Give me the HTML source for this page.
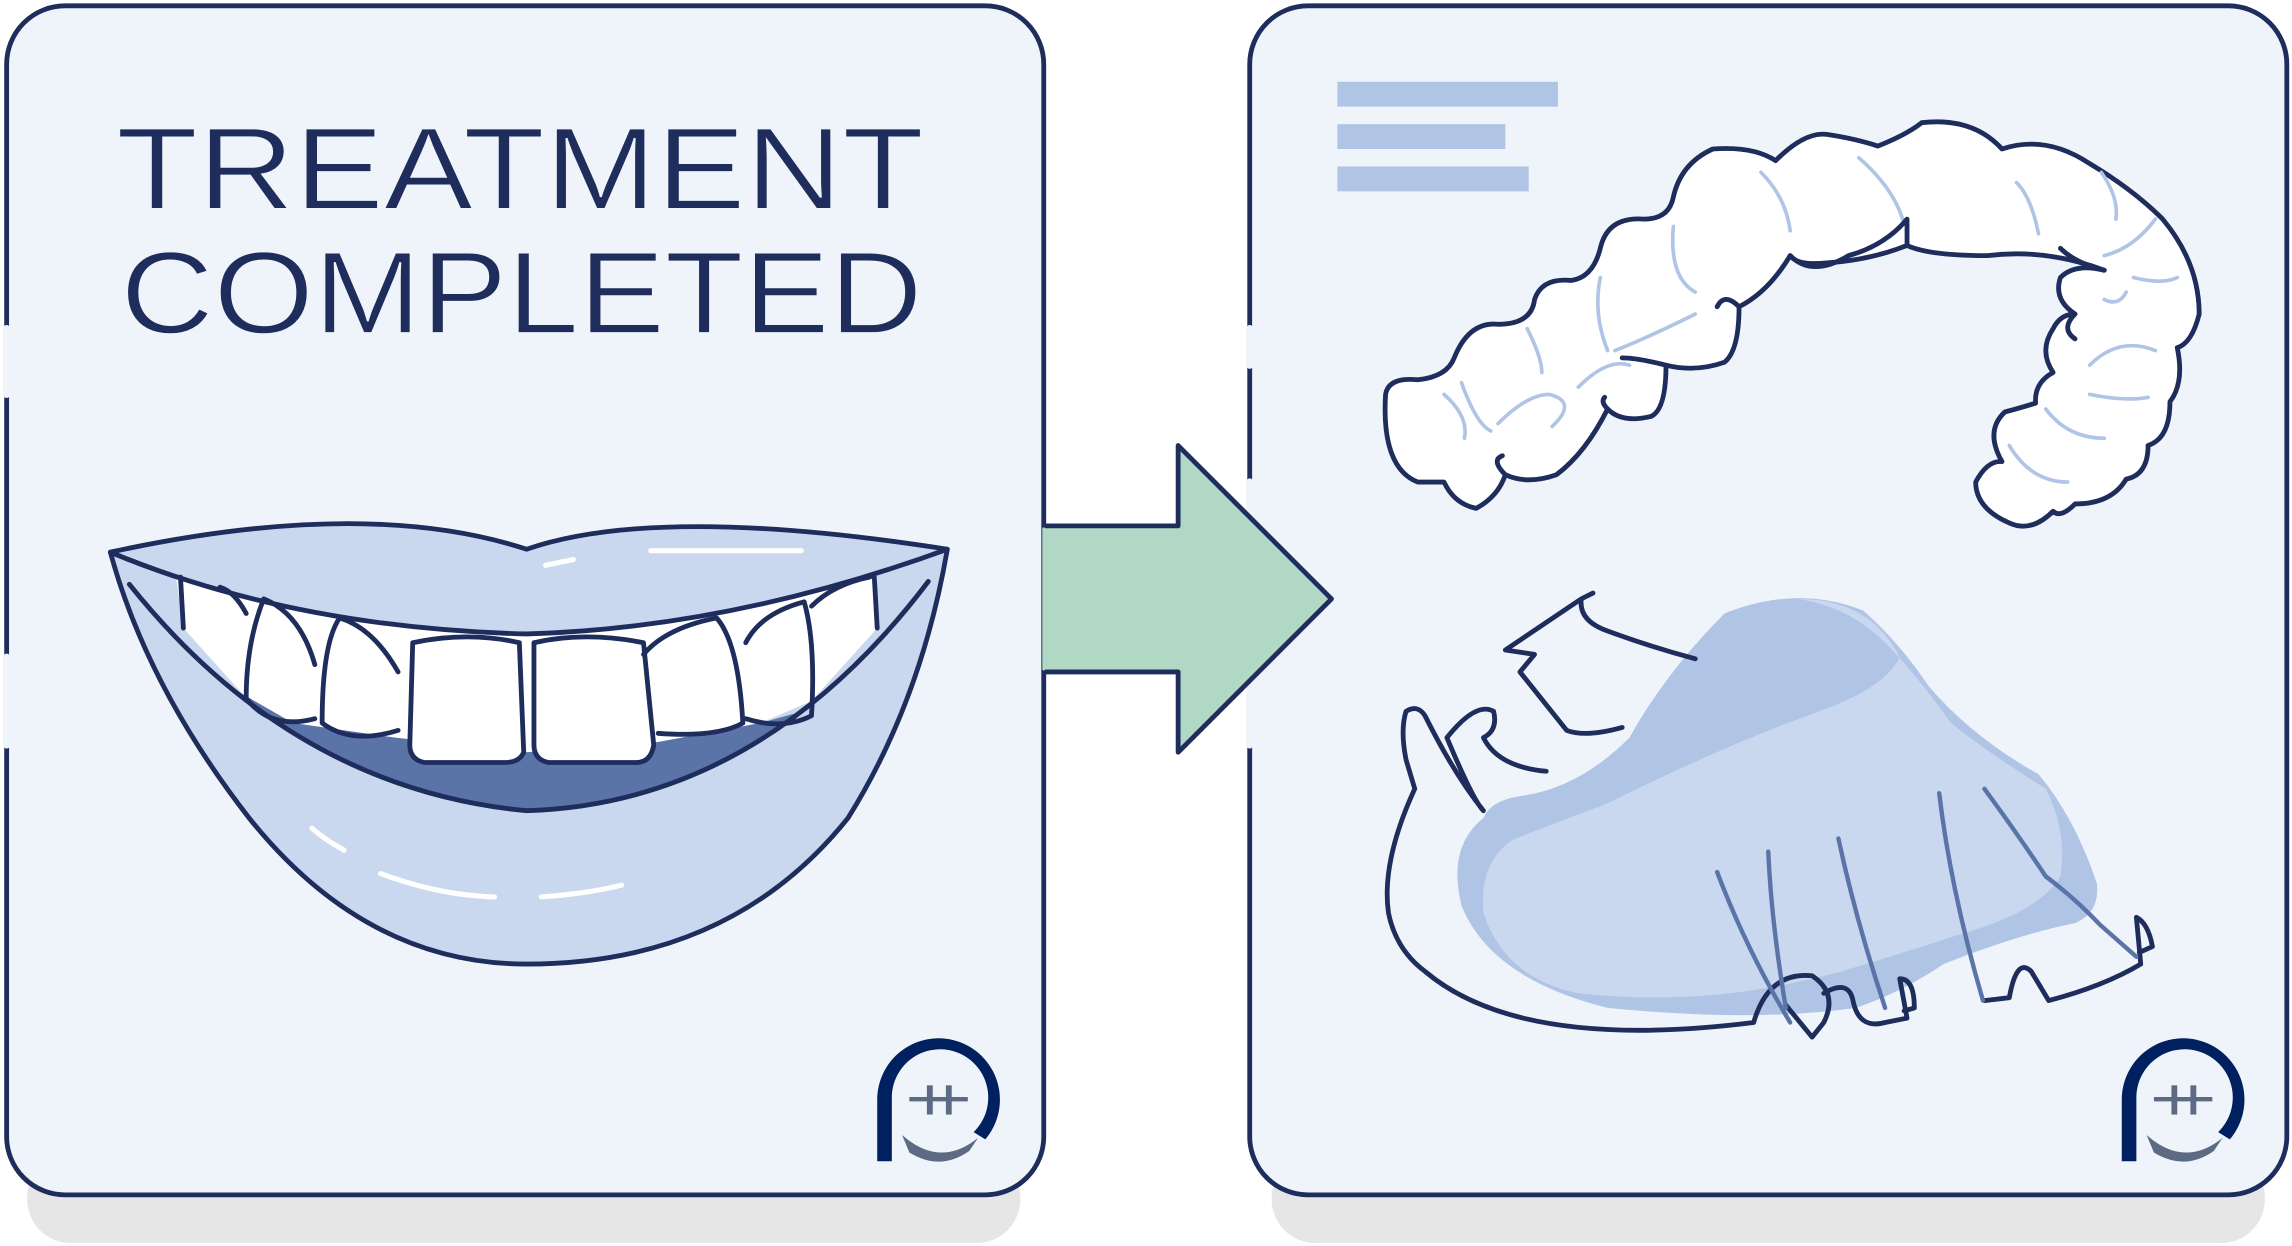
<!DOCTYPE html>
<html><head><meta charset="utf-8"><style>
html,body{margin:0;padding:0;background:#fff;}
svg{display:block;}
</style></head><body>
<svg width="2292" height="1246" viewBox="0 0 1568 853" xmlns="http://www.w3.org/2000/svg">
<g fill="none" stroke="#1e2d5c" stroke-width="3.3" stroke-linecap="round" stroke-linejoin="round">
<rect x="18" y="790" width="680" height="61" rx="30" fill="#e6e6e6" stroke="none"/>
<rect x="870" y="790" width="680" height="61" rx="30" fill="#e6e6e6" stroke="none"/>
<rect x="4" y="4" width="710" height="814" rx="40" fill="#eff4fa"/>
<rect x="855" y="4" width="710" height="814" rx="40" fill="#eff4fa"/>
<line x1="4" y1="225" x2="4" y2="270" stroke="#eff4fa" stroke-width="5"/>
<line x1="4" y1="450" x2="4" y2="510" stroke="#eff4fa" stroke-width="5"/>
<line x1="855" y1="225" x2="855" y2="250" stroke="#eff4fa" stroke-width="5"/>
<line x1="855" y1="330" x2="855" y2="510" stroke="#eff4fa" stroke-width="5"/>
<path d="M714 360 H806 V305 L911 410 L806 515 V460 H714" fill="#b0d8c4"/>
<line x1="714" y1="362" x2="714" y2="458" stroke="#b0d8c4" stroke-width="2"/>
<!-- lips -->
<path d="M75 378 Q100 470 170 560 Q250 660 360 660 Q500 660 580 560 Q630 480 648 376 Q500 420 360 434 Q200 430 75 378 Z" fill="#c9d8ef"/>
<path d="M120 395 L125 430 L170 480 L200 495 L270 505 L360 515 L450 508 L520 495 L555 480 L600 430 L600 395 Q480 425 360 430 Q240 425 120 395 Z" fill="#fff" stroke="none"/>
<path d="M160 472 Q250 548 360 555 Q470 550 545 488 L520 495 L450 508 L360 515 L270 505 L200 495 Z" fill="#5a74a8" stroke="none"/>
<path d="M75 378 Q250 340 360 376 Q450 345 648 376 Q500 430 360 434 Q200 430 75 378 Z" fill="#c9d8ef"/>
<path d="M282 440 Q320 432 355 440 L358 515 Q355 522 345 522 L290 522 Q280 520 280 510 Z" fill="#fff"/>
<path d="M365 440 Q400 432 440 440 L447 510 Q445 522 435 522 L375 522 Q365 520 365 510 Z" fill="#fff"/>
<path d="M272 460 Q255 430 232 423 Q220 440 220 495 Q240 510 272 500 M440 448 Q455 430 490 423 Q505 440 508 495 Q490 505 450 502"/>
<path d="M215 455 Q205 420 180 410 Q168 440 168 478 Q185 500 215 492 M510 440 Q520 420 550 412 Q558 440 555 490 Q535 500 510 492"/>
<path d="M168 420 Q160 405 150 402 M555 415 Q570 400 595 395"/>
<path d="M123 395 L125 430 M598 395 L600 430"/>
<path d="M88 400 Q200 540 360 555 Q520 550 635 398"/>
<g stroke="#fff" stroke-width="3.5">
<path d="M445 377 H548 M373 387 L392 383 M213 567 Q222 575 235 582 M260 598 Q300 613 338 614 M370 614 Q400 612 425 606"/>
</g>
<g stroke="none">
<path d="M600 795 V752 A42 42 0 1 1 674 780 L666 775 A33 33 0 1 0 610 752 V795 Z" fill="#00205f"/>
<path d="M617 777 Q643 800 669 779 L663 788 Q643 802 622 789 Z" fill="#5d6a84"/>
<rect x="622" y="751" width="40" height="3" fill="#5d6a84"/><rect x="634" y="743" width="4" height="20" fill="#5d6a84"/><rect x="647" y="743" width="4" height="20" fill="#5d6a84"/>
<path d="M1452 795 V752 A42 42 0 1 1 1526 780 L1518 775 A33 33 0 1 0 1462 752 V795 Z" fill="#00205f"/>
<path d="M1469 777 Q1495 800 1521 779 L1515 788 Q1495 802 1474 789 Z" fill="#5d6a84"/>
<rect x="1474" y="751" width="40" height="3" fill="#5d6a84"/><rect x="1486" y="743" width="4" height="20" fill="#5d6a84"/><rect x="1499" y="743" width="4" height="20" fill="#5d6a84"/>
<rect x="915" y="56" width="151" height="17" fill="#b0c4e6"/>
<rect x="915" y="85" width="115" height="17" fill="#b0c4e6"/>
<rect x="915" y="114" width="131" height="17" fill="#b0c4e6"/>
</g>
<!-- upper aligner -->
<path d="M970 330 Q945 320 948 270 Q950 258 970 260 Q990 258 995 245 Q1005 220 1025 222 Q1048 222 1050 205 Q1055 190 1075 192 Q1090 190 1095 170 Q1100 148 1125 150 Q1142 150 1145 135 Q1150 112 1172 102 Q1200 100 1215 110 Q1235 90 1250 92 Q1270 95 1285 100 Q1305 92 1315 84 Q1350 80 1370 102 Q1400 92 1430 112 Q1460 130 1480 150 Q1505 180 1505 215 Q1500 235 1490 238 Q1495 262 1485 275 Q1485 300 1470 305 Q1470 325 1455 328 Q1445 345 1420 345 Q1410 355 1405 350 Q1390 365 1375 358 Q1352 348 1352 330 Q1360 315 1370 316 Q1358 295 1372 282 Q1380 280 1393 276 Q1392 262 1405 255 Q1395 240 1405 225 Q1410 215 1420 215 Q1405 205 1410 190 Q1420 180 1440 185 Q1400 170 1360 175 Q1320 175 1305 168 Q1280 178 1250 180 Q1230 182 1225 175 Q1210 200 1190 210 Q1190 240 1180 248 Q1160 255 1140 250 Q1140 280 1130 285 Q1110 290 1100 280 Q1085 310 1065 325 Q1045 332 1030 325 Q1025 340 1010 348 Q995 345 988 330 Z" fill="#fff"/>
<g stroke="#b0c4e6" stroke-width="2.5">
<path d="M1205 118 Q1222 135 1225 158 M1272 108 Q1295 128 1302 150 M1380 125 Q1390 135 1395 160 M1438 118 Q1450 135 1448 150 M1145 155 Q1142 190 1160 200 M1095 190 Q1090 215 1100 240 M1045 225 Q1055 245 1055 255 M1000 262 Q1010 290 1020 295 M988 270 Q1005 285 1002 300 M1025 290 Q1045 270 1060 270 Q1080 275 1062 292 M1080 265 Q1100 245 1115 250 M1105 240 Q1130 230 1160 215 M1460 190 Q1480 195 1490 190 M1440 205 Q1450 210 1455 200 M1430 250 Q1450 230 1475 240 M1430 270 Q1455 275 1470 272 M1400 280 Q1415 300 1440 300 M1375 305 Q1390 330 1415 330 M1440 175 Q1460 170 1475 150"/>
</g>
<path d="M1225 175 Q1240 190 1265 175 Q1290 168 1305 150 M1305 168 L1305 150 M1420 215 Q1410 225 1420 232 M1440 185 Q1420 180 1410 170 M1190 210 Q1180 200 1175 210 M1140 250 Q1120 245 1110 245 M1100 280 Q1095 275 1098 272 M1030 325 Q1020 315 1028 312"/>
<!-- lower aligner -->
<path d="M1180 420 Q1230 400 1275 418 Q1300 440 1320 470 Q1350 505 1395 530 Q1420 560 1435 605 Q1437 625 1420 632 Q1380 640 1330 660 Q1300 680 1270 690 Q1200 700 1100 690 Q1020 670 1000 620 Q990 580 1015 560 Q1020 548 1040 545 Q1080 540 1115 505 Q1140 460 1180 420 Z" fill="#b0c4e6" stroke="none"/>
<path d="M1230 410 Q1280 410 1300 450 Q1290 470 1250 485 Q1180 510 1100 550 Q1060 565 1035 575 Q1012 590 1015 625 Q1030 670 1080 680 Q1170 690 1260 665 Q1310 650 1340 640 Q1395 625 1410 600 Q1415 570 1400 540 Q1360 515 1335 495 Q1310 460 1290 440 Q1265 415 1230 410 Z" fill="#c9d8ef" stroke="none"/>
<path d="M1082 410 L1030 445 L1050 448 L1040 460 L1072 500 Q1085 505 1110 498 M1082 410 Q1080 425 1100 432 Q1130 443 1160 451 M1082 410 L1090 406"/>
<path d="M1015 555 Q995 530 975 490 Q970 482 962 487 Q958 500 962 520 L968 540 Q945 590 950 625 Q955 650 975 665 Q1040 720 1200 700 Q1210 665 1240 668 Q1258 680 1248 700 L1240 710 L1222 688 M1015 555 Q1008 548 990 505 Q1010 480 1022 487 Q1025 500 1015 505 Q1025 525 1058 528 M1248 680 Q1265 670 1268 685 Q1272 705 1290 700 L1305 697 L1300 670 Q1310 670 1310 690 L1303 692 M1358 685 L1375 683 Q1380 655 1390 665 L1402 685 Q1440 675 1465 660 L1462 628 Q1470 632 1473 648 L1464 652"/>
<g stroke="#5a74a8" stroke-width="3">
<path d="M1175 597 Q1195 650 1225 700 M1210 583 Q1212 630 1222 690 M1258 574 Q1270 630 1290 690 M1327 543 Q1335 610 1357 685 M1358 540 Q1380 570 1400 600 Q1420 615 1437 633 L1462 655"/>
</g>
</g>
<g fill="#1e2d5c" font-family="Liberation Sans, sans-serif" font-size="80">
<text x="79" y="143" textLength="553" lengthAdjust="spacingAndGlyphs" stroke="#eff4fa" stroke-width="1.2">TREATMENT</text>
<text x="82" y="228" textLength="549" lengthAdjust="spacingAndGlyphs" stroke="#eff4fa" stroke-width="1.2">COMPLETED</text>
</g>
</svg>
</body></html>
